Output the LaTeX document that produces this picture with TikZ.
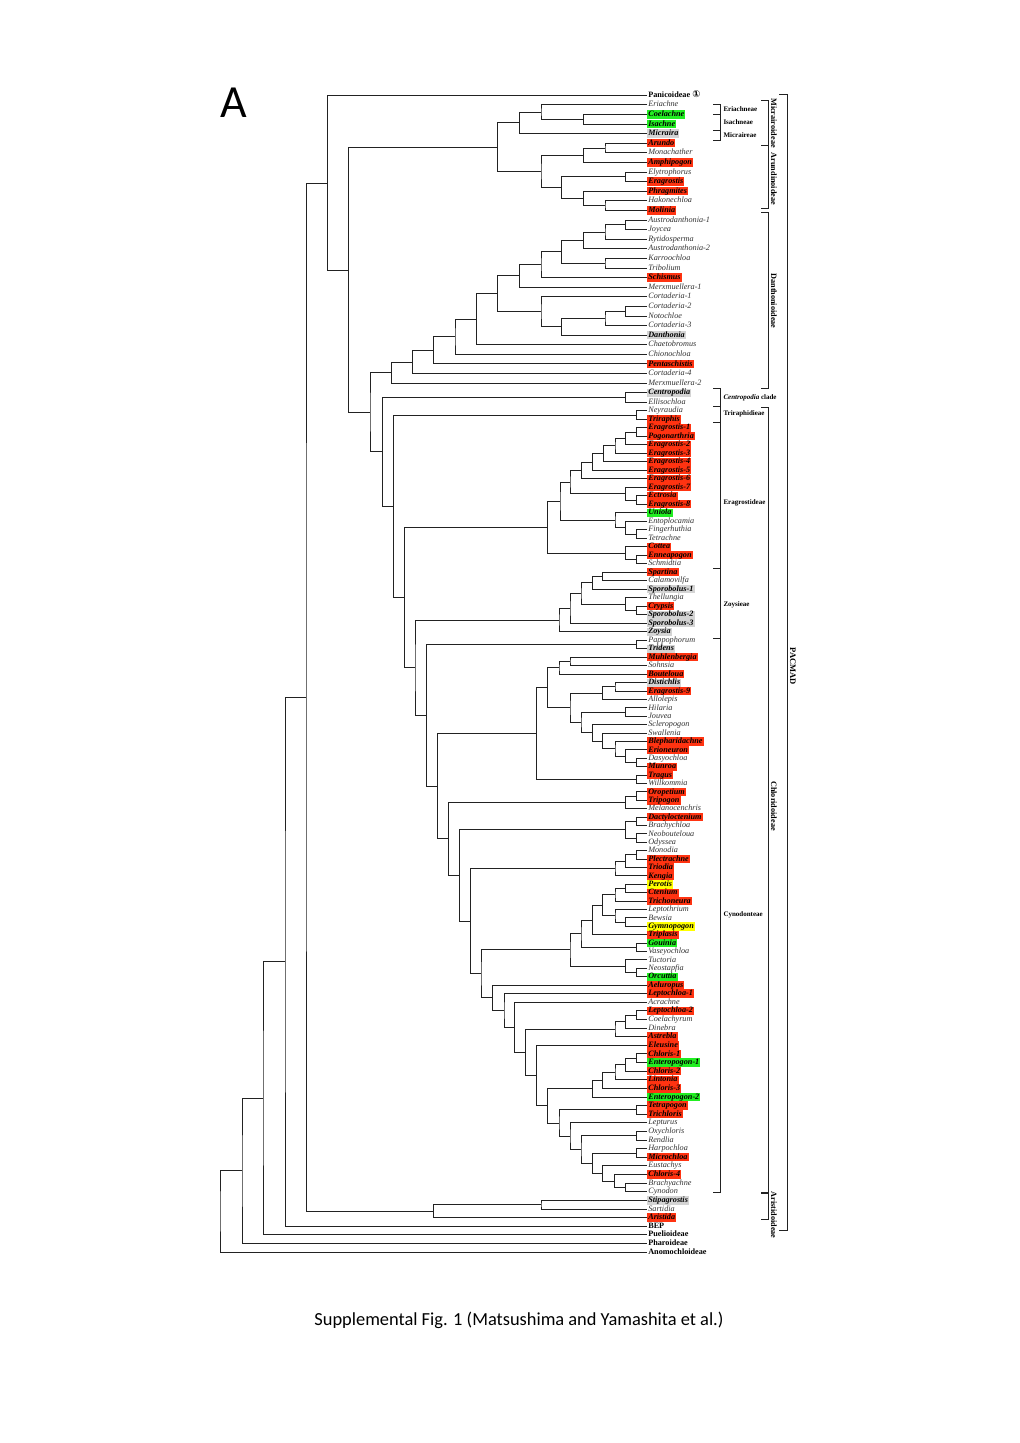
\documentclass[tikz,border=0pt]{standalone}
\usepackage{fontspec}
\setmainfont{Liberation Serif}
\newfontfamily\capfont{Carlito}
\newfontfamily\symfont{DejaVu Sans}
\usepackage{tikz}
\usetikzlibrary{calc}
\definecolor{hred}{HTML}{FF3311}
\definecolor{hgreen}{HTML}{22EE22}
\definecolor{hgray}{HTML}{D4D4D4}
\definecolor{hyellow}{HTML}{FFFF00}
\definecolor{treeline}{HTML}{222222}

% joins two children (upper, lower) at depth x
\newcommand{\cladebranch}[4]{%
  \path let \p1=(#3), \p2=(#4) in coordinate (#1) at (#2pt,{0.5*(\y1+\y2)});
  \draw[branch] (#3) -| (#1) |- (#4);
}
% same, with the node height given
\newcommand{\cladefixed}[5]{%
  \coordinate (#1) at (#2,#3);
  \draw[branch] (#4) -| (#1) |- (#5);
}

\begin{document}
\begin{tikzpicture}[x=1pt, y=-1pt,
    leaf/.style={anchor=west, inner xsep=1.1pt, inner ysep=0.4pt,
                 text height=5.9pt, text depth=1.7pt,
                 font=\fontsize{8.2}{9}\selectfont\itshape},
    plain/.style={leaf, text=black!80},
    hl/.style={leaf, font=\fontsize{8.2}{9}\selectfont\bfseries\itshape},
    hlred/.style={hl, fill=hred},
    hlgreen/.style={hl, fill=hgreen},
    hlgray/.style={hl, fill=hgray},
    hlyellow/.style={hl, fill=hyellow},
    sub/.style={leaf, font=\fontsize{8.2}{9}\selectfont\bfseries},
    branch/.style={line width=0.9pt, treeline},
    bracket/.style={line width=0.8pt, treeline},
    tribe/.style={anchor=west, inner sep=0pt, font=\fontsize{7}{8}\selectfont\bfseries},
    subfam/.style={rotate=-90, inner sep=0pt, font=\fontsize{8.2}{9}\selectfont\bfseries}
]
\useasboundingbox[fill=white] (0,0) rectangle (1020,1443);

\node[font=\fontsize{46}{46}\selectfont\capfont] (panel) at (234,103) {A};
\node[font=\fontsize{18.4}{20}\selectfont\capfont] (caption) at (519,1320)
    {Supplemental Fig. 1 (Matsushima and Yamashita et al.)};

% taxa
\node[sub] (Panicoideae) at (647,95.3) {Panicoideae {\symfont\fontsize{9.5}{9}\selectfont ①}};
\foreach \nm/\st [count=\i from 2] in {
  Eriachne/plain, Coelachne/hlgreen, Isachne/hlgreen, Micraira/hlgray,
  Arundo/hlred, Monachather/plain, Amphipogon/hlred, Elytrophorus/plain,
  Eragrostis/hlred, Phragmites/hlred, Hakonechloa/plain, Molinia/hlred,
  Austrodanthonia-1/plain, Joycea/plain, Rytidosperma/plain,
  Austrodanthonia-2/plain, Karroochloa/plain, Tribolium/plain, Schismus/hlred,
  Merxmuellera-1/plain, Cortaderia-1/plain, Cortaderia-2/plain, Notochloe/plain,
  Cortaderia-3/plain, Danthonia/hlgray, Chaetobromus/plain, Chionochloa/plain,
  Pentaschistis/hlred, Cortaderia-4/plain, Merxmuellera-2/plain,
  Centropodia/hlgray, Ellisochloa/plain, Neyraudia/plain, Triraphis/hlred,
  Eragrostis-1/hlred, Pogonarthria/hlred, Eragrostis-2/hlred, Eragrostis-3/hlred,
  Eragrostis-4/hlred, Eragrostis-5/hlred, Eragrostis-6/hlred, Eragrostis-7/hlred,
  Ectrosia/hlred, Eragrostis-8/hlred, Uniola/hlgreen, Entoplocamia/plain,
  Fingerhuthia/plain, Tetrachne/plain, Cottea/hlred, Enneapogon/hlred,
  Schmidtia/plain, Spartina/hlred, Calamovilfa/plain, Sporobolus-1/hlgray,
  Thellungia/plain, Crypsis/hlred, Sporobolus-2/hlgray, Sporobolus-3/hlgray,
  Zoysia/hlgray, Pappophorum/plain, Tridens/hlgray, Muhlenbergia/hlred,
  Sohnsia/plain, Bouteloua/hlred, Distichlis/hlgray, Eragrostis-9/hlred,
  Allolepis/plain, Hilaria/plain, Jouvea/plain, Scleropogon/plain,
  Swallenia/plain, Blepharidachne/hlred, Erioneuron/hlred, Dasyochloa/plain,
  Munroa/hlred, Tragus/hlred, Willkommia/plain, Oropetium/hlred, Tripogon/hlred,
  Melanocenchris/plain, Dactyloctenium/hlred, Brachychloa/plain,
  Neobouteloua/plain, Odyssea/plain, Monodia/plain, Plectrachne/hlred,
  Triodia/hlred, Kengia/hlred, Perotis/hlyellow, Ctenium/hlred,
  Trichoneura/hlred, Leptothrium/plain, Bewsia/plain, Gymnopogon/hlyellow,
  Triplasis/hlred, Gouinia/hlgreen, Vaseyochloa/plain, Tuctoria/plain,
  Neostapfia/plain, Orcuttia/hlgreen, Aeluropus/hlred, Leptochloa-1/hlred,
  Acrachne/plain, Leptochloa-2/hlred, Coelachyrum/plain, Dinebra/plain,
  Astrebla/hlred, Eleusine/hlred, Chloris-1/hlred, Enteropogon-1/hlgreen,
  Chloris-2/hlred, Lintonia/hlred, Chloris-3/hlred, Enteropogon-2/hlgreen,
  Tetrapogon/hlred, Trichloris/hlred, Lepturus/plain, Oxychloris/plain,
  Rendlia/plain, Harpochloa/plain, Microchloa/hlred, Eustachys/plain,
  Chloris-4/hlred, Brachyachne/plain, Cynodon/plain, Stipagrostis/hlgray,
  Sartidia/plain, Aristida/hlred, BEP/sub, Puelioideae/sub, Pharoideae/sub,
  Anomochloideae/sub}{
  \pgfmathsetmacro\yy{\i<=33 ? 95.3+(\i-1)*9.594 : (\i<=66 ? 402.3+(\i-33)*8.497
      : (\i<=102 ? 682.7+(\i-66)*8.4 : 985+(\i-102)*8.613))}
  \node[\st] (\nm) at (647,\yy) {\nm};
}

% Micrairoideae + Arundinoideae
\cladebranch{ci}{583.3}{Coelachne.west}{Isachne.west}
\cladebranch{eci}{541}{Eriachne.west}{ci}
\cladebranch{micr}{519.3}{eci}{Micraira.west}
\cladebranch{am}{605}{Arundo.west}{Monachather.west}
\cladebranch{ama}{583.3}{am}{Amphipogon.west}
\cladebranch{ee}{625.7}{Elytrophorus.west}{Eragrostis.west}
\cladebranch{hm}{605}{Hakonechloa.west}{Molinia.west}
\cladebranch{phm}{583.3}{Phragmites.west}{hm}
\cladebranch{eph}{561.7}{ee}{phm}
\cladebranch{arund}{541}{ama}{eph}
\cladebranch{ma}{497.3}{micr}{arund}

% Danthonioideae
\cladebranch{aj}{625.7}{Austrodanthonia-1.west}{Joycea.west}
\cladebranch{ajr}{605}{aj}{Rytidosperma.west}
\cladebranch{ajra}{583.3}{ajr}{Austrodanthonia-2.west}
\cladebranch{kt}{605}{Karroochloa.west}{Tribolium.west}
\cladebranch{rk}{561.7}{ajra}{kt}
\cladebranch{rks}{541}{rk}{Schismus.west}
\cladebranch{rkm}{519.3}{rks}{Merxmuellera-1.west}
\cladebranch{cn}{625.7}{Cortaderia-2.west}{Notochloe.west}
\cladebranch{cnc}{605}{cn}{Cortaderia-3.west}
\cladebranch{cnd}{561.7}{cnc}{Danthonia.west}
\cladebranch{cort}{541}{Cortaderia-1.west}{cnd}
\cladebranch{dcore}{497.3}{rkm}{cort}
\cladebranch{dch}{476.7}{dcore}{Chaetobromus.west}
\cladebranch{dci}{455}{dch}{Chionochloa.west}
\cladebranch{dpe}{433.3}{dci}{Pentaschistis.west}
\cladebranch{dco}{412.3}{dpe}{Cortaderia-4.west}
\cladebranch{danth}{391.7}{dco}{Merxmuellera-2.west}

% Centropodia clade + Chloridoideae
\cladebranch{cen}{625.7}{Centropodia.west}{Ellisochloa.west}
\cladebranch{tri}{636.7}{Neyraudia.west}{Triraphis.west}
\cladebranch{ep}{636.7}{Eragrostis-1.west}{Pogonarthria.west}
\cladebranch{er2}{625.7}{ep}{Eragrostis-2.west}
\cladebranch{er3}{615}{er2}{Eragrostis-3.west}
\cladebranch{er4}{603.3}{er3}{Eragrostis-4.west}
\cladebranch{er5}{592.3}{er4}{Eragrostis-5.west}
\cladebranch{er6}{581.7}{er5}{Eragrostis-6.west}
\cladebranch{ee8}{636.7}{Ectrosia.west}{Eragrostis-8.west}
\cladebranch{er7}{625.7}{Eragrostis-7.west}{ee8}
\cladebranch{erag}{570}{er6}{er7}
\cladebranch{ft}{636.7}{Fingerhuthia.west}{Tetrachne.west}
\cladebranch{eft}{625.7}{Entoplocamia.west}{ft}
\cladebranch{uni}{615}{Uniola.west}{eft}
\cladebranch{eu}{560}{erag}{uni}
\cladebranch{es}{636.7}{Enneapogon.west}{Schmidtia.west}
\cladebranch{ces}{625.7}{Cottea.west}{es}
\cladebranch{eragr}{547.7}{eu}{ces}

\cladebranch{sc}{602.7}{Spartina.west}{Calamovilfa.west}
\cladebranch{scs}{592.3}{sc}{Sporobolus-1.west}
\cladebranch{cs}{636.7}{Crypsis.west}{Sporobolus-2.west}
\cladebranch{tcs}{625.7}{Thellungia.west}{cs}
\cladebranch{spo}{581}{scs}{tcs}
\cladebranch{spo3}{570}{spo}{Sporobolus-3.west}
\cladebranch{zoy}{559}{spo3}{Zoysia.west}

\cladebranch{pt}{636.7}{Pappophorum.west}{Tridens.west}
\cladebranch{ms}{570}{Muhlenbergia.west}{Sohnsia.west}
\cladebranch{msb}{559}{ms}{Bouteloua.west}
\cladebranch{de}{615}{Distichlis.west}{Eragrostis-9.west}
\cladebranch{dea}{602.7}{de}{Allolepis.west}
\cladebranch{hj}{625.7}{Hilaria.west}{Jouvea.west}
\cladebranch{dm}{636.7}{Dasyochloa.west}{Munroa.west}
\cladebranch{edm}{625.7}{Erioneuron.west}{dm}
\cladebranch{bed}{615}{Blepharidachne.west}{edm}
\cladebranch{sbe}{602.7}{Swallenia.west}{bed}
\cladebranch{ssb}{592.3}{Scleropogon.west}{sbe}
\cladebranch{hss}{581}{hj}{ssb}
\cladebranch{dh}{570}{dea}{hss}
\cladebranch{boute}{547.7}{msb}{dh}
\cladebranch{tw}{636.7}{Tragus.west}{Willkommia.west}
\cladebranch{btw}{536.7}{boute}{tw}
\cladebranch{ot}{636.7}{Oropetium.west}{Tripogon.west}
\cladebranch{otm}{625.7}{ot}{Melanocenchris.west}
\cladebranch{db}{636.7}{Dactyloctenium.west}{Brachychloa.west}
\cladebranch{no}{636.7}{Neobouteloua.west}{Odyssea.west}
\cladebranch{dbno}{625.7}{db}{no}
\cladebranch{mp}{636.7}{Monodia.west}{Plectrachne.west}
\cladebranch{mpt}{625.7}{mp}{Triodia.west}
\cladebranch{mptk}{615}{mpt}{Kengia.west}
\cladebranch{pc}{625.7}{Perotis.west}{Ctenium.west}
\cladebranch{pct}{615}{pc}{Trichoneura.west}
\cladebranch{bg}{625.7}{Bewsia.west}{Gymnopogon.west}
\cladebranch{lbg}{615}{Leptothrium.west}{bg}
\cladebranch{pl}{602.7}{pct}{lbg}
\cladebranch{plt}{592.3}{pl}{Triplasis.west}
\cladebranch{gv}{636.7}{Gouinia.west}{Vaseyochloa.west}
\cladebranch{pg}{581}{plt}{gv}
\cladebranch{neo}{636.7}{Neostapfia.west}{Orcuttia.west}
\cladebranch{tn}{625.7}{Tuctoria.west}{neo}
\cladebranch{orc}{570}{pg}{tn}
\cladebranch{lc}{636.7}{Leptochloa-2.west}{Coelachyrum.west}
\cladebranch{lcd}{625.7}{lc}{Dinebra.west}
\cladebranch{lcda}{615}{lcd}{Astrebla.west}
\cladebranch{ce}{636.7}{Chloris-1.west}{Enteropogon-1.west}
\cladebranch{ce2}{625.7}{ce}{Chloris-2.west}
\cladebranch{cel}{615}{ce2}{Lintonia.west}
\cladebranch{cec}{602.7}{cel}{Chloris-3.west}
\cladebranch{cee}{592.3}{cec}{Enteropogon-2.west}
\cladebranch{ttr}{636.7}{Tetrapogon.west}{Trichloris.west}
\cladebranch{orr}{636.7}{Oxychloris.west}{Rendlia.west}
\cladebranch{hmi}{636.7}{Harpochloa.west}{Microchloa.west}
\cladebranch{bcy}{625.7}{Brachyachne.west}{Cynodon.west}
\cladebranch{cbc}{614.3}{Chloris-4.west}{bcy}
\cladebranch{ecb}{602.7}{Eustachys.west}{cbc}
\cladebranch{hme}{592.3}{hmi}{ecb}
\cladebranch{ohe}{581}{orr}{hme}
\cladebranch{lep}{570}{Lepturus.west}{ohe}
\cladebranch{tlep}{559}{ttr}{lep}
\cladebranch{chl}{547.7}{cee}{tlep}
\cladebranch{elc}{536.7}{Eleusine.west}{chl}
\cladebranch{ale}{525.7}{lcda}{elc}
\cladebranch{acr}{514.3}{Acrachne.west}{ale}
\cladebranch{lepto}{504}{Leptochloa-1.west}{acr}
\cladebranch{ael}{492.7}{Aeluropus.west}{lepto}
\cladebranch{oae}{481}{orc}{ael}
\cladebranch{tri2}{470.7}{mptk}{oae}
\cladebranch{dtr}{459.3}{dbno}{tri2}
\cladebranch{odt}{448.3}{otm}{dtr}
\cladebranch{bod}{437.7}{btw}{odt}
\cladebranch{pbo}{426.7}{pt}{bod}
\cladebranch{zpb}{415}{zoy}{pbo}
\cladebranch{ezp}{404.3}{eragr}{zpb}
\cladebranch{chlor}{393.3}{tri}{ezp}
\cladebranch{cchl}{382.3}{cen}{chlor}

% backbone
\cladebranch{dc}{370}{danth}{cchl}
\cladefixed{mad}{348.7}{270.7}{ma}{dc}
\cladebranch{pan}{327.3}{Panicoideae.west}{mad}
\cladebranch{ss}{541}{Stipagrostis.west}{Sartidia.west}
\cladebranch{arist}{433.3}{ss}{Aristida.west}
\cladebranch{pacmad}{306}{pan}{arist}
\cladebranch{bep}{285}{pacmad}{BEP.west}
\cladebranch{pue}{263}{bep}{Puelioideae.west}
\cladebranch{pha}{242}{pue}{Pharoideae.west}
\cladebranch{root}{220}{pha}{Anomochloideae.west}

% tribes
\draw[bracket] (713,104) -| (720.7,114.7) -- (713,114.7);
\draw[bracket] (720.7,114.7) -- (720.7,130) -- (713,130);
\draw[bracket] (720.7,130) -- (720.7,140.3) -- (713,140.3);
\node[tribe] (eriachneae) at (723.3,109.3) {Eriachneae};
\node[tribe] (isachneae) at (723.3,122.3) {Isachneae};
\node[tribe] (micraireae) at (723.3,135.3) {Micraireae};
\draw[bracket] (713,388) -| (720.7,406) -- (713,406);
\draw[bracket] (720.7,406) -- (720.7,422) -- (713,422);
\draw[bracket] (720.7,422) -- (720.7,568.3) -- (713,568.3);
\draw[bracket] (720.7,568.3) -- (720.7,638) -- (713,638);
\draw[bracket] (720.7,638) -- (720.7,1192.7) -- (713,1192.7);
\node[tribe] (centropodiaclade) at (723.3,397.7) {\textit{Centropodia} clade};
\node[tribe] (triraphidieae) at (723.3,414.3) {Triraphidieae};
\node[tribe] (eragrostideae) at (723.3,502.7) {Eragrostideae};
\node[tribe] (zoysieae) at (723.3,604.7) {Zoysieae};
\node[tribe] (cynodonteae) at (723.3,915.3) {Cynodonteae};

% subfamilies
\draw[bracket] (761,100) -| (768.3,208) -- (761,208);
\draw[bracket] (768.3,145) -- (761,145);
\draw[bracket] (761,212) -| (768.3,388) -- (761,388);
\draw[bracket] (761,407) -| (768.3,1192) -- (761,1192);
\draw[bracket] (761,1193) -| (768.3,1219) -- (761,1219);
\node[subfam] (micrairoideae) at (773.8,123) {Micrairoideae};
\node[subfam] (arundinoideae) at (773.8,179) {Arundinoideae};
\node[subfam] (danthonioideae) at (773.8,301) {Danthonioideae};
\node[subfam] (chloridoideae) at (773.8,806) {Chloridoideae};
\node[subfam] (aristidoideae) at (773.8,1215) {Aristidoideae};
\draw[bracket] (779.3,94) -| (787.3,1230) -- (779.3,1230);
\node[subfam, font=\fontsize{8.5}{9}\selectfont\bfseries] (pacmadlabel) at (793,666) {PACMAD};
\end{tikzpicture}
\end{document}
